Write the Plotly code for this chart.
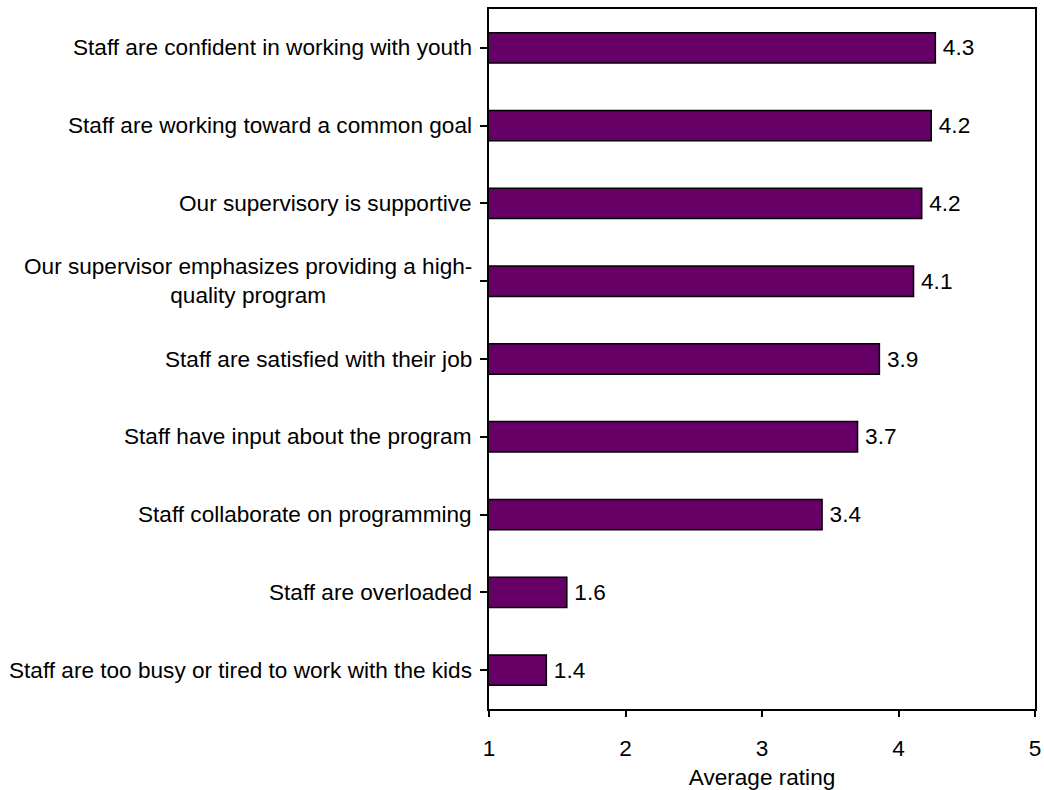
import plotly.graph_objects as go

# Survey statements, listed top to bottom as they appear in the chart
statements = [
    "Staff are confident in working with youth",
    "Staff are working toward a common goal",
    "Our supervisory is supportive",
    "Our supervisor emphasizes providing a high-<br>quality program",
    "Staff are satisfied with their job",
    "Staff have input about the program",
    "Staff collaborate on programming",
    "Staff are overloaded",
    "Staff are too busy or tired to work with the kids",
]
ratings = [4.27, 4.24, 4.17, 4.11, 3.86, 3.70, 3.44, 1.57, 1.42]
x_ticks = [1, 2, 3, 4, 5]

FONT = "Liberation Sans, Arial, sans-serif"
FONT_SIZE = 22.6
BAR_COLOR = "#660066"

fig = go.Figure(
    go.Bar(
        y=list(range(len(statements))),
        x=ratings,
        orientation="h",
        width=0.39,
        marker=dict(color=BAR_COLOR, line=dict(color="black", width=1.5)),
        texttemplate="\u2009%{x:.1f}",
        textposition="outside",
        textfont=dict(family=FONT, size=FONT_SIZE, color="black"),
        cliponaxis=False,
        hoverinfo="skip",
    )
)

# Category labels as centred multi-line annotations to the left of the axis
for i, s in enumerate(statements):
    fig.add_annotation(
        x=0, xref="paper", y=i, yref="y",
        text=s, showarrow=False, xanchor="right", yanchor="middle",
        align="center", xshift=-15,
        font=dict(family=FONT, size=FONT_SIZE, color="black"),
    )

fig.update_layout(
    width=1044, height=790,
    margin=dict(l=489, r=9, t=9, b=81),
    paper_bgcolor="white", plot_bgcolor="white",
    showlegend=False,
    font=dict(family=FONT, size=FONT_SIZE, color="black"),
    xaxis=dict(
        range=[1, 5], tickvals=x_ticks, ticks="outside", ticklen=6,
        tickwidth=1.5, tickcolor="black", showgrid=False, zeroline=False,
        showline=True, linecolor="black", linewidth=2, mirror=True,
        ticklabelstandoff=12, automargin=False,
        tickfont=dict(family=FONT, size=FONT_SIZE, color="black"),
        title=dict(text="Average rating", standoff=12,
                   font=dict(family=FONT, size=FONT_SIZE, color="black")),
    ),
    yaxis=dict(
        range=[len(statements) - 0.5, -0.5],
        tickmode="array", tickvals=list(range(len(statements))),
        ticktext=[""] * len(statements),
        showticklabels=False, ticks="outside", tickson="boundaries",
        ticklen=7, tickwidth=1.5, tickcolor="black",
        showgrid=False, zeroline=False, automargin=False,
        showline=True, linecolor="black", linewidth=2, mirror=True,
    ),
)

fig.write_html("out.html")
